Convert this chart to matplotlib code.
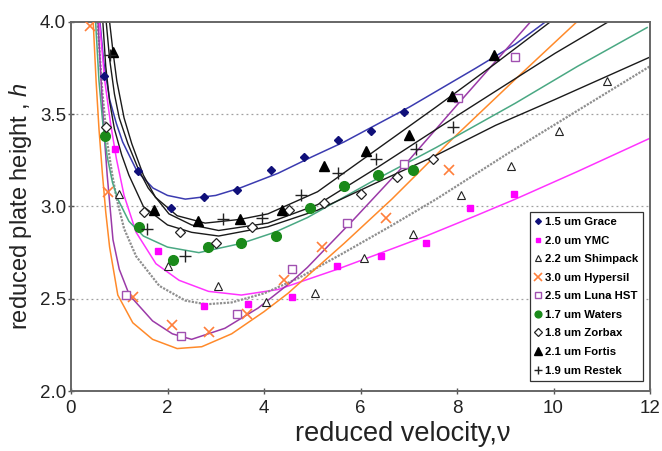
import matplotlib
matplotlib.use("Agg")
import matplotlib.pyplot as plt

plt.rcParams['font.family'] = ['Liberation Sans', 'DejaVu Sans']
plt.rcParams['mathtext.fontset'] = 'custom'
plt.rcParams['mathtext.it'] = 'Liberation Sans:italic'
plt.rcParams['mathtext.rm'] = 'Liberation Sans'

# ---------------- measured points (reduced velocity, reduced plate height) ----------------
grace_x = [0.68, 1.38, 2.08, 2.76, 3.45, 4.14, 4.83, 5.53, 6.22, 6.91]
grace_y = [3.71, 3.19, 2.99, 3.05, 3.09, 3.20, 3.27, 3.36, 3.41, 3.51]

ymc_x = [0.92, 1.81, 2.75, 3.66, 4.58, 5.52, 6.42, 7.35, 8.27, 9.19]
ymc_y = [3.31, 2.76, 2.46, 2.47, 2.51, 2.68, 2.73, 2.80, 2.99, 3.07]

shim_x = [1.00, 2.02, 3.04, 4.05, 5.05, 6.07, 7.09, 8.08, 9.11, 10.12, 11.11]
shim_y = [3.07, 2.68, 2.57, 2.48, 2.53, 2.72, 2.85, 3.06, 3.22, 3.41, 3.68]

hyp_x = [0.39, 0.77, 1.29, 2.10, 2.87, 3.65, 4.42, 5.21, 6.52, 7.83]
hyp_y = [3.98, 3.08, 2.51, 2.36, 2.32, 2.42, 2.60, 2.78, 2.94, 3.20]

luna_x = [1.13, 2.29, 3.45, 4.58, 5.72, 6.90, 8.03, 9.20]
luna_y = [2.52, 2.30, 2.42, 2.66, 2.91, 3.23, 3.59, 3.81]

waters_x = [0.70, 1.40, 2.12, 2.83, 3.52, 4.24, 4.95, 5.66, 6.37, 7.08]
waters_y = [3.38, 2.89, 2.71, 2.78, 2.80, 2.84, 2.99, 3.11, 3.17, 3.20]

zorbax_x = [0.73, 1.51, 2.25, 3.00, 3.75, 4.51, 5.24, 6.02, 6.76, 7.50]
zorbax_y = [3.43, 2.97, 2.86, 2.80, 2.89, 2.98, 3.02, 3.07, 3.16, 3.26]

fortis_x = [0.87, 1.73, 2.63, 3.50, 4.38, 5.24, 6.12, 7.01, 7.89, 8.77]
fortis_y = [3.84, 2.98, 2.92, 2.93, 2.98, 3.22, 3.30, 3.39, 3.60, 3.82]

restek_x = [0.80, 1.57, 2.37, 3.15, 3.96, 4.77, 5.53, 6.33, 7.14, 7.91]
restek_y = [3.82, 2.88, 2.73, 2.93, 2.94, 3.06, 3.18, 3.26, 3.31, 3.43]

# ---------------- fitted curves ----------------
grace_cx = [0.60, 0.68, 0.80, 0.94, 1.07, 1.37, 1.70, 2.00, 2.37, 3.00, 3.50, 4.29, 5.00, 5.66, 7.02, 8.39, 9.21, 9.83]
grace_cy = [4.00, 3.78, 3.58, 3.45, 3.35, 3.19, 3.10, 3.06, 3.04, 3.06, 3.10, 3.18, 3.27, 3.35, 3.54, 3.75, 3.88, 4.00]

ymc_cx = [0.59, 0.70, 0.82, 0.94, 1.10, 1.35, 1.76, 2.24, 2.85, 3.53, 4.29, 5.52, 6.34, 7.36, 8.39, 9.21, 10.5, 12.0]
ymc_cy = [4.00, 3.68, 3.45, 3.26, 3.06, 2.86, 2.69, 2.60, 2.54, 2.52, 2.55, 2.66, 2.74, 2.84, 2.95, 3.04, 3.19, 3.37]

shim_cx = [0.55, 0.65, 0.75, 0.85, 0.94, 1.10, 1.35, 1.83, 2.37, 2.80, 3.33, 4.01, 4.70, 5.66, 6.60, 7.57, 9.07, 10.5, 12.0]
shim_cy = [4.00, 3.62, 3.35, 3.18, 3.05, 2.88, 2.73, 2.57, 2.49, 2.47, 2.48, 2.53, 2.61, 2.75, 2.89, 3.04, 3.29, 3.52, 3.76]

hyp_cx = [0.46, 0.52, 0.58, 0.65, 0.72, 0.80, 0.97, 1.28, 1.69, 2.20, 2.71, 3.33, 4.00, 4.50, 4.97, 5.66, 6.65, 7.84, 9.21, 10.48]
hyp_cy = [4.00, 3.68, 3.42, 3.18, 2.97, 2.78, 2.52, 2.37, 2.28, 2.23, 2.24, 2.31, 2.43, 2.53, 2.64, 2.80, 3.04, 3.35, 3.69, 4.00]

luna_cx = [0.56, 0.62, 0.68, 0.75, 0.87, 1.00, 1.21, 1.69, 2.10, 2.50, 3.19, 3.88, 4.56, 4.90, 5.86, 7.00, 8.00, 9.52]
luna_cy = [4.00, 3.70, 3.42, 3.17, 2.82, 2.66, 2.52, 2.38, 2.31, 2.28, 2.34, 2.45, 2.59, 2.67, 2.93, 3.25, 3.55, 4.00]

waters_cx = [0.51, 0.58, 0.66, 0.75, 0.86, 0.97, 1.20, 1.50, 2.00, 2.65, 3.53, 4.22, 4.90, 6.20, 7.57, 9.21, 10.5, 11.94]
waters_cy = [4.00, 3.68, 3.45, 3.27, 3.13, 3.04, 2.92, 2.84, 2.78, 2.75, 2.80, 2.86, 2.94, 3.13, 3.32, 3.56, 3.76, 3.97]

zorbax_cx = [0.66, 0.72, 0.80, 0.90, 1.05, 1.20, 1.50, 2.00, 2.50, 3.06, 4.08, 5.11, 6.34, 7.51, 8.80, 10.03, 12.0]
zorbax_cy = [4.00, 3.76, 3.57, 3.42, 3.28, 3.17, 3.00, 2.90, 2.86, 2.84, 2.89, 2.98, 3.13, 3.27, 3.44, 3.58, 3.81]

fortis_cx = [0.80, 0.87, 0.95, 1.10, 1.26, 1.50, 1.75, 2.20, 2.78, 3.50, 4.08, 5.11, 6.34, 7.57, 8.77, 9.93]
fortis_cy = [4.00, 3.84, 3.68, 3.48, 3.34, 3.17, 3.05, 2.95, 2.91, 2.93, 2.96, 3.08, 3.31, 3.54, 3.77, 4.00]

restek_cx = [0.73, 0.80, 0.90, 1.00, 1.18, 1.40, 1.60, 2.03, 2.50, 3.06, 4.08, 5.11, 6.34, 8.05, 10.03, 11.13]
restek_cy = [4.00, 3.80, 3.61, 3.48, 3.34, 3.20, 3.10, 2.96, 2.90, 2.87, 2.91, 3.01, 3.21, 3.50, 3.83, 4.00]

labels = ["1.5 um Grace", "2.0 um YMC", "2.2 um Shimpack", "3.0 um Hypersil",
          "2.5 um Luna HST", "1.7 um Waters", "1.8 um Zorbax", "2.1 um Fortis",
          "1.9 um Restek"]

x_ticks = [0, 2, 4, 6, 8, 10, 12]
y_ticks = [2.0, 2.5, 3.0, 3.5, 4.0]

# ---------------- figure ----------------
fig = plt.figure(figsize=(6.62, 4.51), dpi=100)
ax = fig.add_axes([71 / 662, 60 / 451, 579 / 662, 369 / 451])

for y in [2.5, 3.0, 3.5]:
    ax.axhline(y, color='#a0a0a0', lw=0.9, ls=(0, (1.5, 2.5)), zorder=0)

# curves
ax.plot(grace_cx, grace_cy, color='#3b3bb0', lw=1.1, zorder=2)
ax.plot(ymc_cx, ymc_cy, color='#ff33ff', lw=1.1, zorder=2)
ax.plot(shim_cx, shim_cy, color='#8f8f8f', lw=1.6, ls=(0, (1.0, 0.6)), zorder=2)
ax.plot(hyp_cx, hyp_cy, color='#ff8a2a', lw=1.1, zorder=2)
ax.plot(luna_cx, luna_cy, color='#9b3aa8', lw=1.1, zorder=2)
ax.plot(waters_cx, waters_cy, color='#4aa883', lw=1.1, zorder=2)
ax.plot(zorbax_cx, zorbax_cy, color='#1a1a1a', lw=1.0, zorder=2)
ax.plot(fortis_cx, fortis_cy, color='#1a1a1a', lw=1.0, zorder=2)
ax.plot(restek_cx, restek_cy, color='#1a1a1a', lw=1.0, zorder=2)

# markers
mk = dict(ls='none', zorder=3)
ax.plot(grace_x, grace_y, marker='D', ms=4.2, color='#10107a', mec='#10107a', label=labels[0], **mk)
ax.plot(ymc_x, ymc_y, marker='s', ms=5, color='#ff00ff', mec='#ff00ff', label=labels[1], **mk)
ax.plot(shim_x, shim_y, marker='^', ms=5.5, mfc='white', mec='#222222', mew=0.8, label=labels[2], **mk)
ax.plot(hyp_x, hyp_y, marker='x', ms=7.5, mec='#ff7f3a', mew=1.2, label=labels[3], **mk)
ax.plot(luna_x, luna_y, marker='s', ms=5.5, mfc='white', mec='#a050b0', mew=1.0, label=labels[4], **mk)
ax.plot(waters_x, waters_y, marker='o', ms=7, color='#1a8a1a', mec='#1a8a1a', label=labels[5], **mk)
ax.plot(zorbax_x, zorbax_y, marker='D', ms=5.5, mfc='white', mec='#222222', mew=0.9, label=labels[6], **mk)
ax.plot(fortis_x, fortis_y, marker='^', ms=7.5, color='black', mec='black', label=labels[7], **mk)
ax.plot(restek_x, restek_y, marker='+', ms=8, mec='#222222', mew=1.0, label=labels[8], **mk)

ax.set_xlim(0, 12)
ax.set_ylim(2.0, 4.0)
ax.set_xticks(x_ticks)
ax.set_yticks(y_ticks)
ax.set_yticklabels([f"{v:.1f}" for v in y_ticks])
ax.tick_params(axis='both', labelsize=13.5, direction='inout', length=5, width=1.0,
               color='#555555', labelcolor='#222222')
ax.tick_params(axis='x', pad=4)
ax.tick_params(axis='y', pad=1)

for s in ax.spines.values():
    s.set_color('#666666')
    s.set_linewidth(1.4)

ax.set_xlabel("reduced velocity,\u03bd", fontsize=19.5, color='#222222')
ax.xaxis.set_label_coords((403 - 71) / 579, -0.08)
ax.set_ylabel("reduced plate height , $h$", fontsize=17, color='#222222', labelpad=4)

leg = ax.legend(loc='lower right', bbox_to_anchor=(0.988, 0.028),
                prop={'weight': 'bold', 'size': 8.2}, frameon=True, fancybox=False,
                edgecolor='#333333', framealpha=1, borderpad=0.45, labelspacing=0.75,
                handlelength=0.6, handletextpad=0.25, markerscale=0.7, borderaxespad=0)
leg.get_frame().set_linewidth(0.9)

fig.savefig("out.png", dpi=100)
